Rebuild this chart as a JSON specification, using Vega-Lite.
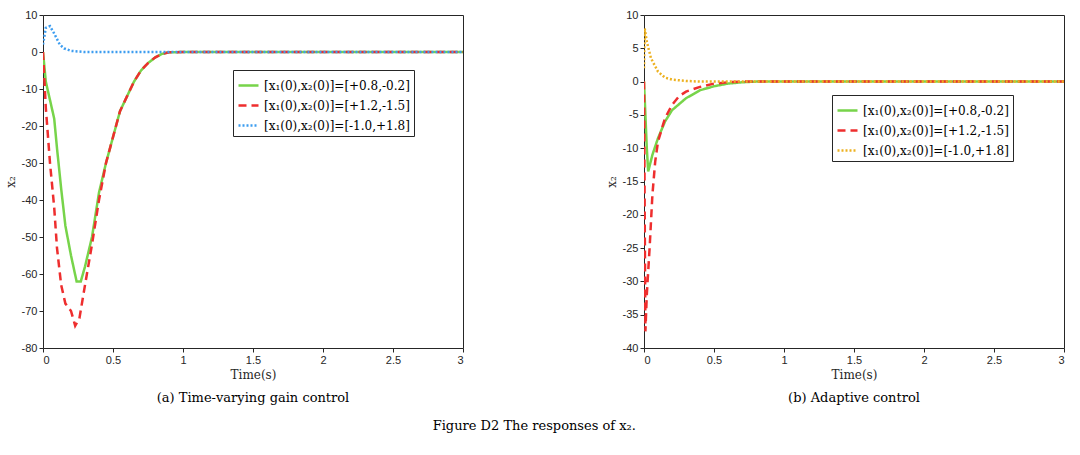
{
  "$schema": "https://vega.github.io/schema/vega-lite/v6.json",
  "background": "white",
  "padding": {"left": 3, "top": 8, "right": 8, "bottom": 5},
  "datasets": {
    "a": [
      {"t": 0, "x2": 0, "s": "[x₁(0),x₂(0)]=[+0.8,-0.2]"},
      {"t": 0.02, "x2": -8, "s": "[x₁(0),x₂(0)]=[+0.8,-0.2]"},
      {"t": 0.05, "x2": -13, "s": "[x₁(0),x₂(0)]=[+0.8,-0.2]"},
      {"t": 0.08, "x2": -18, "s": "[x₁(0),x₂(0)]=[+0.8,-0.2]"},
      {"t": 0.1, "x2": -26, "s": "[x₁(0),x₂(0)]=[+0.8,-0.2]"},
      {"t": 0.13, "x2": -37, "s": "[x₁(0),x₂(0)]=[+0.8,-0.2]"},
      {"t": 0.16, "x2": -47, "s": "[x₁(0),x₂(0)]=[+0.8,-0.2]"},
      {"t": 0.2, "x2": -55, "s": "[x₁(0),x₂(0)]=[+0.8,-0.2]"},
      {"t": 0.24, "x2": -62, "s": "[x₁(0),x₂(0)]=[+0.8,-0.2]"},
      {"t": 0.27, "x2": -62, "s": "[x₁(0),x₂(0)]=[+0.8,-0.2]"},
      {"t": 0.3, "x2": -58, "s": "[x₁(0),x₂(0)]=[+0.8,-0.2]"},
      {"t": 0.35, "x2": -50, "s": "[x₁(0),x₂(0)]=[+0.8,-0.2]"},
      {"t": 0.4, "x2": -38, "s": "[x₁(0),x₂(0)]=[+0.8,-0.2]"},
      {"t": 0.45, "x2": -30, "s": "[x₁(0),x₂(0)]=[+0.8,-0.2]"},
      {"t": 0.5, "x2": -23, "s": "[x₁(0),x₂(0)]=[+0.8,-0.2]"},
      {"t": 0.55, "x2": -16, "s": "[x₁(0),x₂(0)]=[+0.8,-0.2]"},
      {"t": 0.6, "x2": -12, "s": "[x₁(0),x₂(0)]=[+0.8,-0.2]"},
      {"t": 0.65, "x2": -8, "s": "[x₁(0),x₂(0)]=[+0.8,-0.2]"},
      {"t": 0.7, "x2": -5, "s": "[x₁(0),x₂(0)]=[+0.8,-0.2]"},
      {"t": 0.75, "x2": -3, "s": "[x₁(0),x₂(0)]=[+0.8,-0.2]"},
      {"t": 0.8, "x2": -1.5, "s": "[x₁(0),x₂(0)]=[+0.8,-0.2]"},
      {"t": 0.85, "x2": -0.5, "s": "[x₁(0),x₂(0)]=[+0.8,-0.2]"},
      {"t": 0.9, "x2": -0.1, "s": "[x₁(0),x₂(0)]=[+0.8,-0.2]"},
      {"t": 1, "x2": 0, "s": "[x₁(0),x₂(0)]=[+0.8,-0.2]"},
      {"t": 3, "x2": 0, "s": "[x₁(0),x₂(0)]=[+0.8,-0.2]"},
      {"t": 0, "x2": 0, "s": "[x₁(0),x₂(0)]=[+1.2,-1.5]"},
      {"t": 0.02, "x2": -15, "s": "[x₁(0),x₂(0)]=[+1.2,-1.5]"},
      {"t": 0.05, "x2": -30, "s": "[x₁(0),x₂(0)]=[+1.2,-1.5]"},
      {"t": 0.08, "x2": -42, "s": "[x₁(0),x₂(0)]=[+1.2,-1.5]"},
      {"t": 0.1, "x2": -53, "s": "[x₁(0),x₂(0)]=[+1.2,-1.5]"},
      {"t": 0.13, "x2": -63, "s": "[x₁(0),x₂(0)]=[+1.2,-1.5]"},
      {"t": 0.16, "x2": -68, "s": "[x₁(0),x₂(0)]=[+1.2,-1.5]"},
      {"t": 0.2, "x2": -70, "s": "[x₁(0),x₂(0)]=[+1.2,-1.5]"},
      {"t": 0.23, "x2": -74, "s": "[x₁(0),x₂(0)]=[+1.2,-1.5]"},
      {"t": 0.26, "x2": -72, "s": "[x₁(0),x₂(0)]=[+1.2,-1.5]"},
      {"t": 0.3, "x2": -63, "s": "[x₁(0),x₂(0)]=[+1.2,-1.5]"},
      {"t": 0.35, "x2": -52, "s": "[x₁(0),x₂(0)]=[+1.2,-1.5]"},
      {"t": 0.4, "x2": -40, "s": "[x₁(0),x₂(0)]=[+1.2,-1.5]"},
      {"t": 0.45, "x2": -30, "s": "[x₁(0),x₂(0)]=[+1.2,-1.5]"},
      {"t": 0.5, "x2": -23, "s": "[x₁(0),x₂(0)]=[+1.2,-1.5]"},
      {"t": 0.55, "x2": -16, "s": "[x₁(0),x₂(0)]=[+1.2,-1.5]"},
      {"t": 0.6, "x2": -12, "s": "[x₁(0),x₂(0)]=[+1.2,-1.5]"},
      {"t": 0.65, "x2": -8, "s": "[x₁(0),x₂(0)]=[+1.2,-1.5]"},
      {"t": 0.7, "x2": -5, "s": "[x₁(0),x₂(0)]=[+1.2,-1.5]"},
      {"t": 0.75, "x2": -3, "s": "[x₁(0),x₂(0)]=[+1.2,-1.5]"},
      {"t": 0.8, "x2": -1.5, "s": "[x₁(0),x₂(0)]=[+1.2,-1.5]"},
      {"t": 0.85, "x2": -0.5, "s": "[x₁(0),x₂(0)]=[+1.2,-1.5]"},
      {"t": 0.9, "x2": -0.1, "s": "[x₁(0),x₂(0)]=[+1.2,-1.5]"},
      {"t": 1, "x2": 0, "s": "[x₁(0),x₂(0)]=[+1.2,-1.5]"},
      {"t": 3, "x2": 0, "s": "[x₁(0),x₂(0)]=[+1.2,-1.5]"},
      {"t": 0, "x2": 2, "s": "[x₁(0),x₂(0)]=[-1.0,+1.8]"},
      {"t": 0.02, "x2": 6.5, "s": "[x₁(0),x₂(0)]=[-1.0,+1.8]"},
      {"t": 0.05, "x2": 7, "s": "[x₁(0),x₂(0)]=[-1.0,+1.8]"},
      {"t": 0.08, "x2": 5, "s": "[x₁(0),x₂(0)]=[-1.0,+1.8]"},
      {"t": 0.12, "x2": 2, "s": "[x₁(0),x₂(0)]=[-1.0,+1.8]"},
      {"t": 0.15, "x2": 1, "s": "[x₁(0),x₂(0)]=[-1.0,+1.8]"},
      {"t": 0.2, "x2": 0.3, "s": "[x₁(0),x₂(0)]=[-1.0,+1.8]"},
      {"t": 0.3, "x2": 0, "s": "[x₁(0),x₂(0)]=[-1.0,+1.8]"},
      {"t": 3, "x2": 0, "s": "[x₁(0),x₂(0)]=[-1.0,+1.8]"}
    ],
    "b": [
      {"t": 0, "x2": 0, "s": "[x₁(0),x₂(0)]=[+0.8,-0.2]"},
      {"t": 0.02, "x2": -10, "s": "[x₁(0),x₂(0)]=[+0.8,-0.2]"},
      {"t": 0.03, "x2": -13.5, "s": "[x₁(0),x₂(0)]=[+0.8,-0.2]"},
      {"t": 0.06, "x2": -11, "s": "[x₁(0),x₂(0)]=[+0.8,-0.2]"},
      {"t": 0.1, "x2": -8.5, "s": "[x₁(0),x₂(0)]=[+0.8,-0.2]"},
      {"t": 0.15, "x2": -6, "s": "[x₁(0),x₂(0)]=[+0.8,-0.2]"},
      {"t": 0.2, "x2": -4.3, "s": "[x₁(0),x₂(0)]=[+0.8,-0.2]"},
      {"t": 0.3, "x2": -2.5, "s": "[x₁(0),x₂(0)]=[+0.8,-0.2]"},
      {"t": 0.4, "x2": -1.3, "s": "[x₁(0),x₂(0)]=[+0.8,-0.2]"},
      {"t": 0.5, "x2": -0.7, "s": "[x₁(0),x₂(0)]=[+0.8,-0.2]"},
      {"t": 0.6, "x2": -0.3, "s": "[x₁(0),x₂(0)]=[+0.8,-0.2]"},
      {"t": 0.7, "x2": -0.1, "s": "[x₁(0),x₂(0)]=[+0.8,-0.2]"},
      {"t": 0.8, "x2": 0, "s": "[x₁(0),x₂(0)]=[+0.8,-0.2]"},
      {"t": 3, "x2": 0, "s": "[x₁(0),x₂(0)]=[+0.8,-0.2]"},
      {"t": 0, "x2": 0, "s": "[x₁(0),x₂(0)]=[+1.2,-1.5]"},
      {"t": 0.005, "x2": -20, "s": "[x₁(0),x₂(0)]=[+1.2,-1.5]"},
      {"t": 0.01, "x2": -37.5, "s": "[x₁(0),x₂(0)]=[+1.2,-1.5]"},
      {"t": 0.02, "x2": -32, "s": "[x₁(0),x₂(0)]=[+1.2,-1.5]"},
      {"t": 0.04, "x2": -25, "s": "[x₁(0),x₂(0)]=[+1.2,-1.5]"},
      {"t": 0.06, "x2": -17, "s": "[x₁(0),x₂(0)]=[+1.2,-1.5]"},
      {"t": 0.08, "x2": -12, "s": "[x₁(0),x₂(0)]=[+1.2,-1.5]"},
      {"t": 0.1, "x2": -9, "s": "[x₁(0),x₂(0)]=[+1.2,-1.5]"},
      {"t": 0.15, "x2": -5.5, "s": "[x₁(0),x₂(0)]=[+1.2,-1.5]"},
      {"t": 0.2, "x2": -3.5, "s": "[x₁(0),x₂(0)]=[+1.2,-1.5]"},
      {"t": 0.25, "x2": -2.2, "s": "[x₁(0),x₂(0)]=[+1.2,-1.5]"},
      {"t": 0.3, "x2": -1.5, "s": "[x₁(0),x₂(0)]=[+1.2,-1.5]"},
      {"t": 0.4, "x2": -0.8, "s": "[x₁(0),x₂(0)]=[+1.2,-1.5]"},
      {"t": 0.5, "x2": -0.3, "s": "[x₁(0),x₂(0)]=[+1.2,-1.5]"},
      {"t": 0.6, "x2": -0.1, "s": "[x₁(0),x₂(0)]=[+1.2,-1.5]"},
      {"t": 0.7, "x2": 0, "s": "[x₁(0),x₂(0)]=[+1.2,-1.5]"},
      {"t": 3, "x2": 0, "s": "[x₁(0),x₂(0)]=[+1.2,-1.5]"},
      {"t": 0, "x2": 2, "s": "[x₁(0),x₂(0)]=[-1.0,+1.8]"},
      {"t": 0.005, "x2": 8, "s": "[x₁(0),x₂(0)]=[-1.0,+1.8]"},
      {"t": 0.02, "x2": 6, "s": "[x₁(0),x₂(0)]=[-1.0,+1.8]"},
      {"t": 0.05, "x2": 3.5, "s": "[x₁(0),x₂(0)]=[-1.0,+1.8]"},
      {"t": 0.1, "x2": 1.5, "s": "[x₁(0),x₂(0)]=[-1.0,+1.8]"},
      {"t": 0.15, "x2": 0.6, "s": "[x₁(0),x₂(0)]=[-1.0,+1.8]"},
      {"t": 0.2, "x2": 0.3, "s": "[x₁(0),x₂(0)]=[-1.0,+1.8]"},
      {"t": 0.3, "x2": 0.1, "s": "[x₁(0),x₂(0)]=[-1.0,+1.8]"},
      {"t": 0.4, "x2": 0, "s": "[x₁(0),x₂(0)]=[-1.0,+1.8]"},
      {"t": 3, "x2": 0, "s": "[x₁(0),x₂(0)]=[-1.0,+1.8]"}
    ]
  },
  "title": {
    "text": "Figure D2    The responses of x₂.",
    "orient": "bottom",
    "anchor": "middle",
    "font": "DejaVu Serif",
    "fontSize": 13,
    "fontWeight": "normal",
    "offset": 14
  },
  "hconcat": [
    {
      "width": 420,
      "height": 333,
      "data": {"name": "a"},
      "title": {"text": "(a) Time-varying gain control", "orient": "bottom", "font": "DejaVu Serif", "fontSize": 13, "fontWeight": "normal", "offset": 12},
      "mark": {"type": "line", "strokeWidth": 2.5, "clip": true},
      "encoding": {
        "x": {"field": "t", "type": "quantitative", "title": "Time(s)", "scale": {"domain": [0, 3], "nice": false}, "axis": {"values": [0, 0.5, 1, 1.5, 2, 2.5, 3], "labelExpr": "'' + datum.value"}},
        "y": {"field": "x2", "type": "quantitative", "title": "x₂", "scale": {"domain": [-80, 10], "nice": false}, "axis": {"values": [10, 0, -10, -20, -30, -40, -50, -60, -70, -80], "labelExpr": "'' + datum.value"}},
        "color": {"field": "s", "type": "nominal", "sort": null, "title": null,
          "scale": {"domain": ["[x₁(0),x₂(0)]=[+0.8,-0.2]", "[x₁(0),x₂(0)]=[+1.2,-1.5]", "[x₁(0),x₂(0)]=[-1.0,+1.8]"], "range": ["#77d44a", "#ee2e2e", "#3d9df0"]},
          "legend": {"orient": "none", "legendX": 190, "legendY": 55}},
        "strokeDash": {"field": "s", "type": "nominal", "sort": null, "title": null,
          "scale": {"domain": ["[x₁(0),x₂(0)]=[+0.8,-0.2]", "[x₁(0),x₂(0)]=[+1.2,-1.5]", "[x₁(0),x₂(0)]=[-1.0,+1.8]"], "range": [[1, 0], [8, 5], [2, 2]]},
          "legend": {"orient": "none", "legendX": 190, "legendY": 55}}
      }
    },
    {
      "width": 420,
      "height": 333,
      "data": {"name": "b"},
      "title": {"text": "(b) Adaptive control", "orient": "bottom", "font": "DejaVu Serif", "fontSize": 13, "fontWeight": "normal", "offset": 12},
      "mark": {"type": "line", "strokeWidth": 2.5, "clip": true},
      "encoding": {
        "x": {"field": "t", "type": "quantitative", "title": "Time(s)", "scale": {"domain": [0, 3], "nice": false}, "axis": {"values": [0, 0.5, 1, 1.5, 2, 2.5, 3], "labelExpr": "'' + datum.value"}},
        "y": {"field": "x2", "type": "quantitative", "title": "x₂", "scale": {"domain": [-40, 10], "nice": false}, "axis": {"values": [10, 5, 0, -5, -10, -15, -20, -25, -30, -35, -40], "labelExpr": "'' + datum.value"}},
        "color": {"field": "s", "type": "nominal", "sort": null, "title": null,
          "scale": {"domain": ["[x₁(0),x₂(0)]=[+0.8,-0.2]", "[x₁(0),x₂(0)]=[+1.2,-1.5]", "[x₁(0),x₂(0)]=[-1.0,+1.8]"], "range": ["#77d44a", "#ee2e2e", "#edb120"]},
          "legend": {"orient": "none", "legendX": 188, "legendY": 80}},
        "strokeDash": {"field": "s", "type": "nominal", "sort": null, "title": null,
          "scale": {"domain": ["[x₁(0),x₂(0)]=[+0.8,-0.2]", "[x₁(0),x₂(0)]=[+1.2,-1.5]", "[x₁(0),x₂(0)]=[-1.0,+1.8]"], "range": [[1, 0], [8, 5], [2, 2]]},
          "legend": {"orient": "none", "legendX": 188, "legendY": 80}}
      }
    }
  ],
  "spacing": 140,
  "resolve": {"scale": {"color": "independent", "strokeDash": "independent", "x": "independent", "y": "independent"}, "legend": {"color": "independent", "strokeDash": "independent"}},
  "config": {
    "view": {"stroke": "#262626", "strokeWidth": 1},
    "axis": {"grid": false, "domain": false, "tickColor": "#262626", "tickSize": 4, "labelColor": "#262626", "labelFontSize": 11, "labelFont": "Liberation Sans", "titleFont": "DejaVu Serif", "titleFontWeight": "normal", "titleFontSize": 12, "titleColor": "#262626"},
    "axisY": {"titlePadding": 4},
    "legend": {"symbolType": "stroke", "symbolStrokeWidth": 2.5, "symbolSize": 400, "labelFont": "DejaVu Serif", "labelFontSize": 12, "labelColor": "#000", "strokeColor": "#262626", "fillColor": "white", "padding": 4, "rowPadding": 2, "labelLimit": 300}
  }
}
